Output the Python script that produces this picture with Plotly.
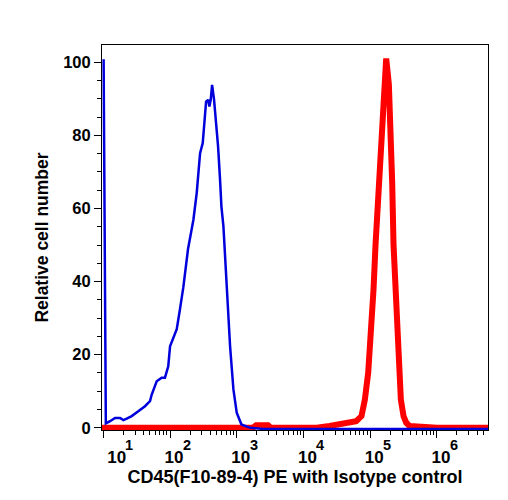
import math
import plotly.graph_objects as go

# Isotype control (blue) histogram: fluorescence intensity vs relative cell number
blue_x = [10.1, 10.9, 12.6, 15.0, 17.8, 20.0, 22.4, 26.6, 33.4, 42.1, 50.1, 53.1, 63.1,
          74.8, 83.9, 94.0, 100, 126, 141, 158, 186, 224, 251, 282, 309, 347, 372, 389,
          407, 427, 457, 501, 525, 562, 589, 631, 708, 794, 891, 1000, 1175, 1585, 2500,
          6.0e6]
blue_y = [100.8, 1.2, 1.8, 2.7, 2.7, 2.1, 2.5, 3.2, 4.5, 5.9, 7.3, 9.1, 12.7,
          13.7, 13.7, 16.8, 22.3, 27.0, 32.5, 38.4, 48.9, 56.9, 64.2, 75.1, 77.9, 89.2, 89.7, 87.9,
          89.7, 93.8, 89.7, 81.5, 76.9, 67.8, 60.5, 55.1, 39.7, 22.3, 10.5, 4.1, 0.9, 0.0, -0.3,
          -0.3]

# CD45 PE (red) histogram
red_x = [9.55, 1738, 1950, 2950, 3236, 15849, 24547, 34914, 48978, 61660, 74131, 83176,
         93325, 102329, 112202, 120226, 138038, 154882, 165959, 173780, 190546, 199526,
         213796, 223872, 239883, 251189, 269153, 288403, 316228, 346737, 389045, 549541,
         1.0e6, 6.0e6]
red_y = [0.0, 0.0, 0.7, 0.7, 0.0, 0.0, 0.5, 0.9, 1.5, 1.8, 3.2, 7.7,
         15.0, 24.0, 37.8, 50.0, 67.0, 85.0, 94.0, 101.0, 94.0, 85.0,
         67.0, 50.0, 37.8, 24.0, 15.0, 7.7, 3.2, 1.4, 0.5, 0.2,
         0.0, 0.0]

x_tick_vals = [1e1, 1e2, 1e3, 1e4, 1e5, 1e6]
x_tick_base = ["\u00a0\u00a0\u00a0\u00a010", "10", "10", "10", "10", "10"]
x_exponents = ["1", "2", "3", "4", "5", "6"]
y_tick_vals = [0, 20, 40, 60, 80, 100]
y_tick_text = ["0", "20", "40", "60", "80", "100"]

x_title = "CD45(F10-89-4) PE with Isotype control"
y_title = "Relative cell number"

x_minor = [m * 10 ** e for e in range(0, 7) for m in range(2, 10)]

fig = go.Figure()
fig.add_trace(go.Scatter(x=red_x, y=red_y, mode="lines",
                         line=dict(color="#ff0000", width=6), hoverinfo="skip"))
fig.add_trace(go.Scatter(x=blue_x, y=blue_y, mode="lines",
                         line=dict(color="#0000dd", width=2.5), hoverinfo="skip"))

# exponent superscripts of the decade labels
for i, (v, e) in enumerate(zip(x_tick_vals, x_exponents)):
    fig.add_annotation(x=math.log10(v), xref="x", y=0, yref="paper",
                       text=e, showarrow=False, xanchor="center", yanchor="middle",
                       xshift=26 if i == 0 else 17, yshift=-15,
                       font=dict(size=14.5, weight="bold", color="black"))

fig.update_layout(
    width=508, height=500,
    margin=dict(l=102, r=19.5, t=45, b=70),
    plot_bgcolor="white", paper_bgcolor="white",
    showlegend=False,
    font=dict(family="Liberation Sans, Arial, sans-serif", color="black", size=16, weight="bold"),
)

fig.update_xaxes(
    type="log", range=[0.98, 6.766],
    showline=True, linecolor="black", linewidth=1, mirror=True,
    showgrid=False, zeroline=False,
    ticks="outside", ticklen=7, tickwidth=1, tickcolor="black",
    tickmode="array", tickvals=x_tick_vals, ticktext=x_tick_base,
    tickfont=dict(size=17, weight="bold"), ticklabelshift=4, ticklabelstandoff=5,
    minor=dict(tickmode="array", tickvals=x_minor, ticks="outside", ticklen=4,
               tickwidth=1, tickcolor="black", showgrid=False),
    title=dict(text=x_title, font=dict(size=18, weight="bold"), standoff=1),
)

fig.update_yaxes(
    range=[-0.6, 104.7],
    showline=True, linecolor="black", linewidth=1, mirror=True,
    showgrid=False, zeroline=False,
    ticks="outside", ticklen=7, tickwidth=1, tickcolor="black",
    tickmode="array", tickvals=y_tick_vals, ticktext=y_tick_text,
    tickfont=dict(size=16.5, weight="bold"),
    minor=dict(dtick=5, ticks="outside", ticklen=4, tickwidth=1, tickcolor="black", showgrid=False),
    title=dict(text=y_title, font=dict(size=17.5, weight="bold"), standoff=10),
)

fig.write_html("out.html")
